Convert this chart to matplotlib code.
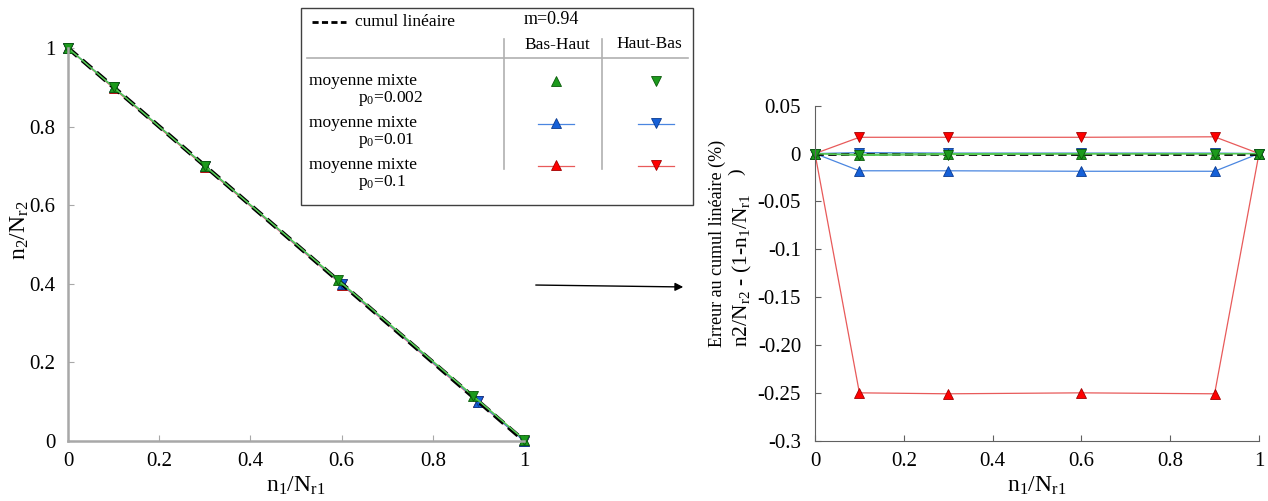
import matplotlib
matplotlib.use('Agg')
from matplotlib import pyplot as plt
from matplotlib.patches import Rectangle
from matplotlib.lines import Line2D

W, H = 1268, 501

plt.rcParams['font.family'] = ['Liberation Serif', 'DejaVu Serif']
plt.rcParams['mathtext.fontset'] = 'custom'
plt.rcParams['mathtext.rm'] = 'Liberation Serif'
plt.rcParams['mathtext.default'] = 'regular'

# --- donnees : graphe de gauche (n2/Nr2 en fonction de n1/Nr1)
x_lin = [0, 1]
y_lin = [1, 0]
x_g = [0, 0.1, 0.3, 0.6, 0.9, 1]
y_rouge_bh = [1, 0.8975, 0.6975, 0.3975, 0.0975, 0]
y_rouge_hb = [1, 0.9002, 0.7002, 0.4002, 0.1002, 0]
y_bleu_bh = [1, 0.8998, 0.6998, 0.3998, 0.0998, 0]
y_bleu_hb = [1, 0.9, 0.7, 0.4, 0.1, 0]
x_vert = [0, 0.1, 0.3, 0.593, 0.889, 1]
y_vert_bh = [1, 0.9, 0.7, 0.409, 0.114, 0.003]
y_vert_hb = [1, 0.9, 0.7, 0.408, 0.113, 0.003]

# --- donnees : graphe de droite (erreur en %)
x_d = [0, 0.1, 0.3, 0.6, 0.9, 1]
err_lin = [0, 0]
err_rouge_bh = [0, -0.250, -0.251, -0.250, -0.251, 0]
err_rouge_hb = [0, 0.017, 0.017, 0.017, 0.0175, 0]
err_bleu_bh = [0, -0.018, -0.018, -0.0185, -0.0185, 0]
err_bleu_hb = [0, 0.001, 0.0005, 0.0005, 0.0005, 0]
err_vert_bh = [0, -0.001, 0, 0, 0, 0]
err_vert_hb = [0, -0.002, -0.001, -0.0005, -0.0005, 0]

x_ticks = [0, 0.2, 0.4, 0.6, 0.8, 1]
x_ticklabels = ['0', '0.2', '0.4', '0.6', '0.8', '1']
yg_ticks = [0, 0.2, 0.4, 0.6, 0.8, 1]
yg_ticklabels = ['0', '0.2', '0.4', '0.6', '0.8', '1']
yd_ticks = [0.05, 0, -0.05, -0.1, -0.15, -0.2, -0.25, -0.3]
yd_ticklabels = ['0.05', '0', '-0.05', '-0.1', '-0.15', '-0.20', '-0.25', '-0.3']

ROUGE, ROUGE_L = '#ff0000', '#e85a5a'
BLEU, BLEU_L = '#1560d8', '#4a86e0'
VERT, VERT_L = '#1c9a1c', '#55c855'

STY = {
    'rouge': dict(color=ROUGE_L, mfc=ROUGE, mec='#a00000'),
    'bleu': dict(color=BLEU_L, mfc=BLEU, mec='#0a3a90'),
    'vert': dict(color=VERT_L, mfc=VERT, mec='#0a5a0a'),
}


def fig_pt(x, y):
    return x / W, 1 - y / H


def serie(ax, x, y, nom, marker, ms=6.5):
    ax.plot(x, y, lw=0.9, marker=marker, ms=ms, mew=0.6, clip_on=False,
            **STY[nom])


def style_axes(ax, spine_col):
    for s in ['top', 'right']:
        ax.spines[s].set_visible(False)
    for s in ['left', 'bottom']:
        ax.spines[s].set_color(spine_col)
    ax.tick_params(direction='in', length=4, colors=spine_col,
                   labelcolor='black', labelsize=15)
    ax.tick_params(axis='x', pad=8)


fig = plt.figure(figsize=(W / 100, H / 100), dpi=100)

# ---------------- graphe de gauche
axg = fig.add_axes([68 / W, 1 - 440.7 / H, 456 / W, 392.7 / H])
style_axes(axg, '#a8a8a8')
for s in ['left', 'bottom']:
    axg.spines[s].set_linewidth(1.8)
axg.tick_params(axis='y', pad=9)
serie(axg, x_g, y_rouge_bh, 'rouge', '^')
serie(axg, x_g, y_rouge_hb, 'rouge', 'v')
serie(axg, x_g, y_bleu_bh, 'bleu', '^')
serie(axg, x_g, y_bleu_hb, 'bleu', 'v')
axg.plot(x_lin, y_lin, color='black', lw=3.0, ls=(0, (3, 1.5)))
serie(axg, x_vert, y_vert_bh, 'vert', '^')
serie(axg, x_vert, y_vert_hb, 'vert', 'v')
axg.set_xlim(0, 1)
axg.set_ylim(0, 1)
axg.set_xticks(x_ticks)
axg.set_xticklabels(x_ticklabels)
axg.set_yticks(yg_ticks)
axg.set_yticklabels(yg_ticklabels)
axg.set_xlabel('n$_1$/N$_{r1}$', fontsize=17, labelpad=3)
fig.text(*fig_pt(20, 230), 'n$_2$/N$_{r2}$', fontsize=17, rotation=90,
         ha='center', va='center')

# ---------------- graphe de droite
axd = fig.add_axes([815 / W, 1 - 440.7 / H, 444 / W, 335 / H])
style_axes(axd, '#606060')
axd.tick_params(axis='y', pad=10)
serie(axd, x_d, err_rouge_bh, 'rouge', '^')
serie(axd, x_d, err_rouge_hb, 'rouge', 'v')
serie(axd, x_d, err_bleu_bh, 'bleu', '^')
serie(axd, x_d, err_bleu_hb, 'bleu', 'v')
axd.plot(x_lin, err_lin, color='black', lw=2.0, ls=(0, (3, 1.6)))
serie(axd, x_d, err_vert_bh, 'vert', '^')
serie(axd, x_d, err_vert_hb, 'vert', 'v')
axd.set_xlim(0, 1)
axd.set_ylim(-0.3, 0.05)
axd.set_xticks(x_ticks)
axd.set_xticklabels(x_ticklabels)
axd.set_yticks(yd_ticks)
axd.set_yticklabels(yd_ticklabels)
axd.set_xlabel('n$_1$/N$_{r1}$', fontsize=17, labelpad=3)
fig.text(*fig_pt(717, 347), 'Erreur au cumul linéaire (%)', fontsize=13,
         rotation=90, rotation_mode='anchor', ha='left', va='center')
fig.text(*fig_pt(742, 347), 'n2/N$_{r2}$ - (1-n$_1$/N$_{r1}$',
         fontsize=15.5, rotation=90, rotation_mode='anchor',
         ha='left', va='center')
fig.text(*fig_pt(737, 172), ')', fontsize=14, rotation=90,
         ha='center', va='center')

# fleche entre les deux graphes
fig.add_artist(plt.Annotation('', xy=fig_pt(686, 287), xytext=fig_pt(533, 285),
                              xycoords='figure fraction',
                              textcoords='figure fraction',
                              arrowprops=dict(arrowstyle='-|>', color='black',
                                              lw=1.0, mutation_scale=12)))

# ---------------- legende (tableau)
x0, y0 = fig_pt(301, 205)
x1, y1 = fig_pt(693, 8)
fig.add_artist(Rectangle((x0, y0), x1 - x0, y1 - y0, transform=fig.transFigure,
                         fill=False, ec='#404040', lw=1.0))


def seg(xa, ya, xb, yb, **kw):
    (u0, v0), (u1, v1) = fig_pt(xa, ya), fig_pt(xb, yb)
    fig.add_artist(Line2D([u0, u1], [v0, v1], transform=fig.transFigure, **kw))


seg(312, 22, 346, 22, color='black', lw=2.0, ls=(0, (2.2, 1.2)))
fig.text(*fig_pt(355, 22), 'cumul linéaire', fontsize=12.5, va='center')
fig.text(*fig_pt(524, 19), 'm=0.94', fontsize=13, va='center')
fig.text(*fig_pt(557, 45), 'Bas-Haut', fontsize=12.5, ha='center', va='center')
fig.text(*fig_pt(649, 44), 'Haut-Bas', fontsize=12.5, ha='center', va='center')
seg(307, 58, 688, 58, color='#b0b0b0', lw=1.2)
seg(504, 39, 504, 169, color='#b0b0b0', lw=1.2)
seg(602, 39, 602, 169, color='#b0b0b0', lw=1.2)

lignes_leg = [('vert', 'p$_0$=0.002', 81, False),
              ('bleu', 'p$_0$=0.01', 123, True),
              ('rouge', 'p$_0$=0.1', 165, True)]
for nom, p0, yy, trait in lignes_leg:
    fig.text(*fig_pt(309, yy), 'moyenne mixte', fontsize=12.5, va='center')
    fig.text(*fig_pt(358, yy + 18), p0, fontsize=12.5, va='center')
    for xc, mk in [(556, '^'), (656, 'v')]:
        if trait:
            seg(xc - 18, yy + 1, xc + 18, yy + 1, color=STY[nom]['color'], lw=0.9)
        u, v = fig_pt(xc, yy)
        fig.add_artist(Line2D([u], [v], transform=fig.transFigure, marker=mk,
                              ms=6.5, mew=0.6, ls='none',
                              mfc=STY[nom]['mfc'], mec=STY[nom]['mec']))

fig.savefig('out.png', dpi=100)
